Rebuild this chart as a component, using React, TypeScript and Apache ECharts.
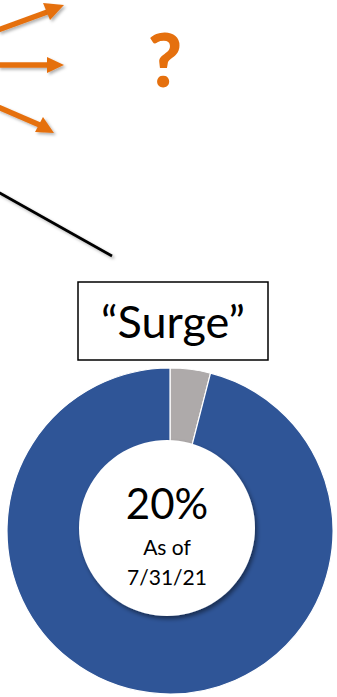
import React, { useEffect, useRef } from "react";
import * as echarts from "echarts";

const sliceNames = ["Other", "Surge"];
const sliceValues = [4, 96];
const sliceColors = ["#AEAAAA", "#2F5597"];
const boxLabel = "\u201CSurge\u201D";
const centerValue = "20%";
const centerNote = ["As of", "7/31/21"];
const questionMark = "?";

const ORANGE = "#E5700E";
const FONT = "Lato, 'Open Sans', sans-serif";

function bar(x1: number, y1: number, x2: number, y2: number, w: number) {
  const dx = x2 - x1;
  const dy = y2 - y1;
  const len = Math.sqrt(dx * dx + dy * dy);
  const nx = (-dy / len) * (w / 2);
  const ny = (dx / len) * (w / 2);
  return [
    [x1 + nx, y1 + ny],
    [x2 + nx, y2 + ny],
    [x2 - nx, y2 - ny],
    [x1 - nx, y1 - ny],
  ];
}

export default function App() {
  const ref = useRef<HTMLDivElement>(null);
  useEffect(() => {
    if (!ref.current) return;
    const chart = echarts.init(ref.current, null, { renderer: "svg" });
    const shadow = {
      shadowBlur: 3,
      shadowOffsetX: 2,
      shadowOffsetY: 2,
      shadowColor: "rgba(0,0,0,0.3)",
    };
    chart.setOption({
      animation: false,
      backgroundColor: "#ffffff",
      series: [
        {
          type: "pie",
          center: [170, 531],
          radius: [0, 163],
          startAngle: 90,
          clockwise: true,
          z: 1,
          label: { show: false },
          labelLine: { show: false },
          silent: true,
          itemStyle: { borderColor: "#ffffff", borderWidth: 1.2 },
          data: sliceNames.map((n, i) => ({
            name: n,
            value: sliceValues[i],
            itemStyle: { color: sliceColors[i] },
          })),
        },
      ],
      graphic: {
        elements: [
          // arrows
          {
            type: "polygon",
            z: 10,
            shape: { points: bar(-2, 30, 50, 11, 5.5) },
            style: { fill: ORANGE, ...shadow },
          },
          {
            type: "polygon",
            z: 10,
            shape: { points: [[64, 5], [43, 3], [50, 20]] },
            style: { fill: ORANGE, ...shadow },
          },
          {
            type: "polygon",
            z: 10,
            shape: { points: bar(-2, 65, 50, 65, 5.5) },
            style: { fill: ORANGE, ...shadow },
          },
          {
            type: "polygon",
            z: 10,
            shape: { points: [[64, 65], [47, 57], [47, 73]] },
            style: { fill: ORANGE, ...shadow },
          },
          {
            type: "polygon",
            z: 10,
            shape: { points: bar(-2, 107, 42, 126, 5.5) },
            style: { fill: ORANGE, ...shadow },
          },
          {
            type: "polygon",
            z: 10,
            shape: { points: [[54, 133], [35, 132], [43, 117]] },
            style: { fill: ORANGE, ...shadow },
          },
          {
            type: "text",
            z: 10,
            x: 165,
            y: 58,
            style: {
              text: questionMark,
              fill: ORANGE,
              font: `900 74px ${FONT}`,
              textAlign: "center",
              textVerticalAlign: "middle",
            },
          },
          // black line
          {
            type: "polygon",
            z: 10,
            shape: { points: bar(-2, 192, 112, 256, 2.6) },
            style: { fill: "#000000", ...shadow },
          },
          // box
          {
            type: "rect",
            z: 10,
            shape: { x: 78, y: 282, width: 190, height: 78 },
            style: { fill: "#ffffff", stroke: "#000000", lineWidth: 1.5 },
          },
          {
            type: "text",
            z: 11,
            x: 173,
            y: 321,
            style: {
              text: boxLabel,
              fill: "#000000",
              font: `45px ${FONT}`,
              textAlign: "center",
              textVerticalAlign: "middle",
            },
          },
          // inner circle
          {
            type: "circle",
            z: 20,
            shape: { cx: 167, cy: 528, r: 88 },
            style: {
              fill: "#ffffff",
              shadowBlur: 4,
              shadowOffsetX: 2,
              shadowOffsetY: 3,
              shadowColor: "rgba(0,0,0,0.45)",
            },
          },
          {
            type: "text",
            z: 21,
            x: 167,
            y: 503,
            style: {
              text: centerValue,
              fill: "#000000",
              font: `42px ${FONT}`,
              textAlign: "center",
              textVerticalAlign: "middle",
            },
          },
          {
            type: "text",
            z: 21,
            x: 167,
            y: 546,
            style: {
              text: centerNote[0],
              fill: "#000000",
              font: `21px ${FONT}`,
              textAlign: "center",
              textVerticalAlign: "middle",
            },
          },
          {
            type: "text",
            z: 21,
            x: 167,
            y: 576,
            style: {
              text: centerNote[1],
              fill: "#000000",
              font: `21px ${FONT}`,
              textAlign: "center",
              textVerticalAlign: "middle",
            },
          },
        ],
      },
    });
    return () => chart.dispose();
  }, []);
  return (
    <div
      ref={ref}
      style={{ position: "absolute", left: 0, top: 0, width: 337, height: 697 }}
    />
  );
}
